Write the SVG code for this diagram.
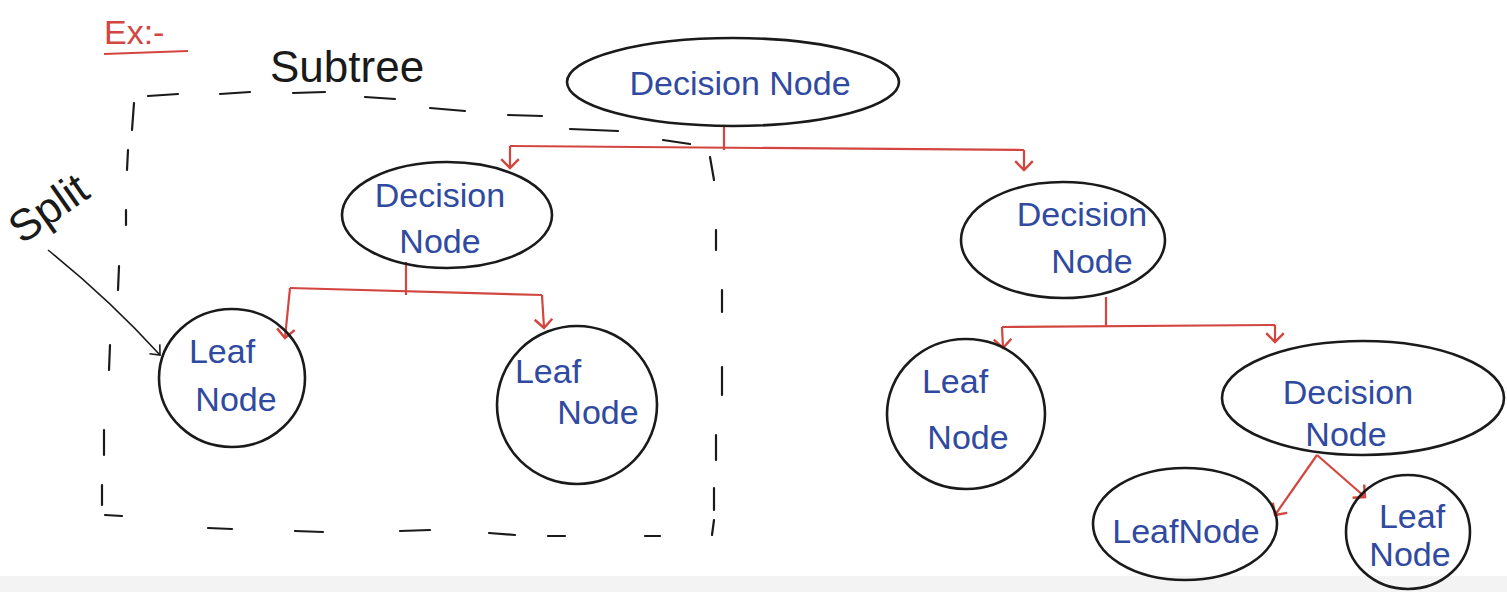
<svg xmlns="http://www.w3.org/2000/svg" width="1507" height="592" viewBox="0 0 1507 592">
<style>
.node{fill:none;stroke:#1a1a1a;stroke-width:2.6}
.lbl{font-family:"Liberation Sans","DejaVu Sans",sans-serif;fill:#2f4aa0;font-size:34px;text-anchor:middle}
.ink{font-family:"Liberation Sans","DejaVu Sans",sans-serif;fill:#1a1a1a;font-size:44px}
.edge{fill:none;stroke:#d2463f;stroke-width:2.2}
.dash{fill:none;stroke:#1a1a1a;stroke-width:2.2;stroke-linecap:round}
</style>
<defs>
<marker id="ah" viewBox="0 0 20 20" refX="10" refY="10" markerWidth="22" markerHeight="22" markerUnits="userSpaceOnUse" orient="auto">
<path d="M2,2 L10,10 L2,18" fill="none" stroke="#d2463f" stroke-width="2.2"/>
</marker>
<marker id="bh" viewBox="0 0 20 20" refX="10" refY="10" markerWidth="20" markerHeight="20" markerUnits="userSpaceOnUse" orient="auto">
<path d="M2,3 L10,10 L2,17" fill="none" stroke="#1a1a1a" stroke-width="1.6"/>
</marker>
</defs>
<rect width="1507" height="592" fill="#ffffff"/>
<rect x="0" y="576" width="1507" height="16" fill="#f3f3f3"/>

<g id="annotations">
<text x="104" y="44" font-family="Liberation Sans,sans-serif" font-size="34" fill="#d2463f">Ex:-</text>
<path d="M104,54 L188,51" stroke="#d2463f" stroke-width="2.2" fill="none"/>
<text class="ink" x="270" y="82">Subtree</text>
<text class="ink" x="0" y="0" transform="translate(22,245) rotate(-35)">Split</text>
<path d="M48,250 Q110,300 160,355" fill="none" stroke="#1a1a1a" stroke-width="1.6" marker-end="url(#bh)"/>
</g>

<g id="subtree-box">
<path class="dash" d="M148,96 L178,94 M220,94 L250,92 M293,93 L325,92 M365,97 L395,99 M430,108 L465,111 M508,115 L542,116 M570,129 L618,131 M663,140 L690,144"/>
<path class="dash" d="M134,103 L132,130 M128,150 L127,170 M126,210 L126,225 M119,266 L118,290 M110,345 L109,370 M104,430 L104,455 M102,485 L102,505"/>
<path class="dash" d="M105,515 L122,516 M208,528 L232,529 M295,531 L323,532 M400,531 L430,530 M489,533 L515,535 M548,536 L565,536 M645,536 L660,536"/>
<path class="dash" d="M710,157 L714,180 M716,230 L716,250 M722,290 L722,312 M722,367 L722,395 M716,435 L716,460 M714,488 L714,510 M714,520 L712,535"/>
</g>

<g id="connectors">
<path class="edge" d="M724,125 L724,150"/>
<path class="edge" d="M510,146 L1024,150"/>
<path class="edge" d="M510,146 L510,168" marker-end="url(#ah)"/>
<path class="edge" d="M1024,150 L1024,170" marker-end="url(#ah)"/>
<path class="edge" d="M406,262 L406,295"/>
<path class="edge" d="M290,288 L542,295"/>
<path class="edge" d="M290,288 L285,338" marker-end="url(#ah)"/>
<path class="edge" d="M542,295 L544,328" marker-end="url(#ah)"/>
<path class="edge" d="M1106,297 L1106,327"/>
<path class="edge" d="M1002,327 L1275,325"/>
<path class="edge" d="M1002,327 L1003,348" marker-end="url(#ah)"/>
<path class="edge" d="M1275,325 L1275,342" marker-end="url(#ah)"/>
<path class="edge" d="M1317,455 L1275,515" marker-end="url(#ah)" stroke-width="3"/>
<path class="edge" d="M1317,455 L1365,497" marker-end="url(#ah)" stroke-width="3"/>
</g>

<g id="root">
<ellipse class="node" cx="733" cy="82" rx="166" ry="44"/>
<text class="lbl" x="740" y="95" font-size="40">Decision Node</text>
</g>
<g id="decision-left">
<ellipse class="node" cx="447" cy="215" rx="105" ry="53"/>
<text class="lbl" x="440" y="207">Decision</text>
<text class="lbl" x="440" y="253">Node</text>
</g>
<g id="decision-right">
<ellipse class="node" cx="1063" cy="240" rx="102" ry="58"/>
<text class="lbl" x="1082" y="226">Decision</text>
<text class="lbl" x="1092" y="273">Node</text>
</g>
<g id="leaf-1">
<ellipse class="node" cx="232" cy="378" rx="73" ry="69"/>
<text class="lbl" x="222" y="363">Leaf</text>
<text class="lbl" x="236" y="411">Node</text>
</g>
<g id="leaf-2">
<ellipse class="node" cx="577" cy="405" rx="80" ry="79"/>
<text class="lbl" x="548" y="383">Leaf</text>
<text class="lbl" x="598" y="424">Node</text>
</g>
<g id="leaf-3">
<ellipse class="node" cx="966" cy="414" rx="79" ry="75"/>
<text class="lbl" x="955" y="393">Leaf</text>
<text class="lbl" x="968" y="449">Node</text>
</g>
<g id="decision-3">
<ellipse class="node" cx="1363" cy="398" rx="141" ry="57"/>
<text class="lbl" x="1348" y="404">Decision</text>
<text class="lbl" x="1346" y="446">Node</text>
</g>
<g id="leaf-4">
<ellipse class="node" cx="1185" cy="524" rx="92" ry="56"/>
<text class="lbl" x="1186" y="543" font-size="29">LeafNode</text>
</g>
<g id="leaf-5">
<ellipse class="node" cx="1408" cy="532" rx="62" ry="57"/>
<text class="lbl" x="1412" y="528" font-size="29">Leaf</text>
<text class="lbl" x="1410" y="566" font-size="29">Node</text>
</g>
</svg>
